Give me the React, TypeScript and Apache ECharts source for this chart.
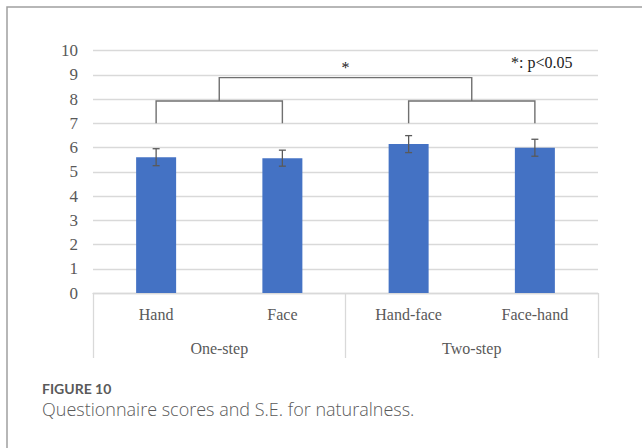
import React, { useEffect, useRef } from "react";
import * as echarts from "echarts";

// Conditions and their groups
const categories = ["Hand", "Face", "Hand-face", "Face-hand"];
const groups = ["One-step", "Two-step"];

// Mean naturalness score and standard error per condition
const means = [5.6, 5.56, 6.14, 5.99];
const stdErr = [0.35, 0.33, 0.35, 0.35];

// Significance brackets: category positions of the legs and their heights
const bracketFrom = [0, 2, 0.5];
const bracketTo = [1, 3, 2.5];
const bracketBase = [7, 7, 7.92];
const bracketTop = [7.92, 7.92, 8.88];
const bracketMark = ["", "", "*"];
const markY = 9.3;

const yTicks = [0, 1, 2, 3, 4, 5, 6, 7, 8, 9, 10];

const SERIF = "Liberation Serif";
const LABEL_COLOR = "#595959";
const GRID_COLOR = "#d9d9d9";

export default function App() {
  const ref = useRef<HTMLDivElement>(null);

  useEffect(() => {
    if (!ref.current) return;
    const chart = echarts.init(ref.current, null, { renderer: "svg" });

    const xPix = (api: any, v: number) => {
      const lo = Math.floor(v);
      const hi = Math.ceil(v);
      const a = api.coord([lo, 0])[0];
      const b = api.coord([hi, 0])[0];
      return a + (b - a) * (v - lo);
    };

    chart.setOption({
      animation: false,
      backgroundColor: "#fff",
      textStyle: { fontFamily: SERIF },
      grid: { left: 93, right: 44, top: 50.5, bottom: 155, containLabel: false },
      xAxis: [
        {
          type: "category",
          data: categories,
          position: "bottom",
          axisLine: { show: true, lineStyle: { color: GRID_COLOR, width: 1.3 } },
          axisTick: { show: false },
          axisLabel: { margin: 13, fontFamily: SERIF, fontSize: 16, color: LABEL_COLOR },
        },
        {
          type: "category",
          data: groups,
          position: "bottom",
          axisLine: { show: false },
          axisTick: { show: true, length: 65, lineStyle: { color: GRID_COLOR, width: 1.3 } },
          axisLabel: { margin: 47, fontFamily: SERIF, fontSize: 16, color: LABEL_COLOR },
        },
      ],
      yAxis: {
        type: "value",
        min: yTicks[0],
        max: yTicks[yTicks.length - 1],
        interval: 1,
        axisLine: { show: false },
        axisTick: { show: false },
        axisLabel: { show: false },
        splitLine: { lineStyle: { color: GRID_COLOR, width: 1.3 } },
      },
      series: [
        {
          type: "bar",
          data: means,
          barWidth: 40,
          itemStyle: { color: "#4472c4" },
          z: 2,
        },
        {
          // value labels of the y axis, placed through the axis scale
          type: "custom",
          z: 3,
          silent: true,
          data: yTicks.map((v) => [0, v]),
          renderItem: (params: any, api: any) => {
            const y = api.coord([0, api.value(1)])[1];
            return {
              type: "text",
              style: {
                text: String(api.value(1)),
                x: params.coordSys.x - 15,
                y,
                align: "right",
                verticalAlign: "middle",
                fontFamily: SERIF,
                fontSize: 17,
                fill: LABEL_COLOR,
              },
            };
          },
        },
        {
          type: "custom",
          z: 3,
          data: means.map((m, i) => [i, m - stdErr[i], m + stdErr[i]]),
          renderItem: (params: any, api: any) => {
            const i = api.value(0);
            const lo = api.coord([i, api.value(1)]);
            const hi = api.coord([i, api.value(2)]);
            const x = lo[0];
            const half = 3.5;
            const style = { stroke: "#5a5a5a", lineWidth: 1.3 };
            return {
              type: "group",
              children: [
                { type: "line", shape: { x1: x, y1: lo[1], x2: x, y2: hi[1] }, style },
                { type: "line", shape: { x1: x - half, y1: lo[1], x2: x + half, y2: lo[1] }, style },
                { type: "line", shape: { x1: x - half, y1: hi[1], x2: x + half, y2: hi[1] }, style },
              ],
            };
          },
        },
        {
          type: "custom",
          z: 3,
          data: bracketBase.map((b, i) => [i, b]),
          renderItem: (params: any, api: any) => {
            const k = params.dataIndex;
            const x1 = xPix(api, bracketFrom[k]);
            const x2 = xPix(api, bracketTo[k]);
            const yb = api.coord([0, bracketBase[k]])[1];
            const yt = api.coord([0, bracketTop[k]])[1];
            const children: any[] = [
              {
                type: "polyline",
                shape: { points: [[x1, yb], [x1, yt], [x2, yt], [x2, yb]] },
                style: { stroke: "#707070", lineWidth: 1.4, fill: null },
              },
            ];
            if (bracketMark[k]) {
              children.push({
                type: "text",
                style: {
                  text: bracketMark[k],
                  x: (x1 + x2) / 2,
                  y: api.coord([0, markY])[1],
                  align: "center",
                  verticalAlign: "middle",
                  fontFamily: SERIF,
                  fontSize: 16,
                  fill: "#222",
                },
              });
            }
            return { type: "group", children };
          },
        },
      ],
      graphic: [
        {
          type: "polyline",
          shape: { points: [[7, 448], [7, 7], [642, 7]] },
          style: { stroke: "#a0a0a0", lineWidth: 1.5, fill: null },
        },
        {
          type: "text",
          x: 511,
          y: 62,
          style: {
            text: "*: p<0.05",
            fontFamily: SERIF,
            fontSize: 16,
            fill: "#222",
            verticalAlign: "middle",
          },
        },
        {
          type: "text",
          x: 42,
          y: 388,
          style: {
            text: "FIGURE 10",
            fontFamily: "Lato",
            fontWeight: "bold",
            fontSize: 14,
            fill: "#5a5a5a",
            verticalAlign: "middle",
          },
        },
        {
          type: "text",
          x: 42,
          y: 409,
          style: {
            text: "Questionnaire scores and S.E. for naturalness.",
            fontFamily: "Open Sans",
            fontWeight: 300,
            fontSize: 18,
            fill: "#5a5a5a",
            verticalAlign: "middle",
          },
        },
      ],
    });

    return () => chart.dispose();
  }, []);

  return (
    <div
      ref={ref}
      style={{ position: "fixed", left: 0, top: 0, width: 642, height: 448 }}
    />
  );
}
